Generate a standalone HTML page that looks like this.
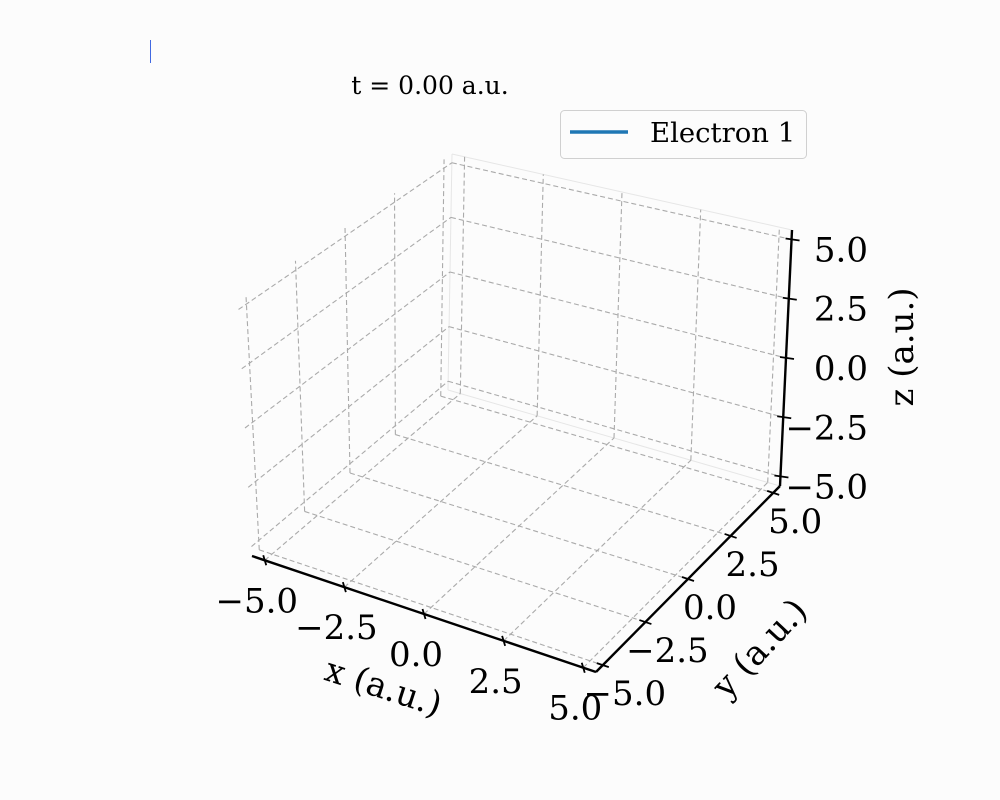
<!DOCTYPE html>
<html><head><meta charset="utf-8"><style>
html,body{margin:0;padding:0;background:#fcfcfc;}
svg{display:block;font-family:"DejaVu Serif","Liberation Serif",serif;}
</style></head><body>
<svg id="chart" width="1000" height="800" viewBox="0 0 1000 800">
<rect width="1000" height="800" fill="#fcfcfc"/>
<line x1="150.5" y1="40" x2="150.5" y2="63" stroke="#4169e1" stroke-width="1"/>
<text x="430" y="94" font-size="25" text-anchor="middle" fill="#000">t = 0.00 a.u.</text>
<g id="grid"></g>
<g id="axes"></g>
<g>
<rect x="560.5" y="110.5" width="246" height="48" rx="4" fill="#fcfcfc" stroke="#d0d0d0"/>
<line x1="570" y1="132" x2="628" y2="132" stroke="#1f77b4" stroke-width="3.5"/>
<text x="650" y="142" font-size="27.5" fill="#000">Electron 1</text>
</g>
<text transform="translate(380,698) rotate(18)" font-size="34" text-anchor="middle">x (a.u.)</text>
<text transform="translate(768,656) rotate(-47)" font-size="34" text-anchor="middle">y (a.u.)</text>
<text transform="translate(913,347) rotate(-90)" font-size="34" text-anchor="middle">z (a.u.)</text>
</svg>
<script>
const xTicks=[-5,-2.5,0,2.5,5];
const yTicks=[-5,-2.5,0,2.5,5];
const zTicks=[-5,-2.5,0,2.5,5];
const tickLabels=["\u22125.0","\u22122.5","0.0","2.5","5.0"];
const series1X=[];const series1Y=[];const series1Z=[];
const R=5.4;
const C={
 "000":[252,556],"100":[596,672],"110":[780,486],"010":[448,390],
 "001":[238,300],"101":[580,416],"111":[792,230],"011":[452,154]};
function proj(x,y,z){
 const u=(x+R)/(2*R),v=(y+R)/(2*R),w=(z+R)/(2*R);
 let px=0,py=0;
 for(const a of [0,1])for(const b of [0,1])for(const c of [0,1]){
  const wt=(a?u:1-u)*(b?v:1-v)*(c?w:1-w);
  const p=C[""+a+b+c];px+=wt*p[0];py+=wt*p[1];}
 return [px,py];}
const NS="http://www.w3.org/2000/svg";
const grid=document.getElementById('grid'),axes=document.getElementById('axes'),svg=document.getElementById('chart');
function ln(g,p,q,stroke,w,dash,name){
 const l=document.createElementNS(NS,'line');
 l.setAttribute('x1',p[0]);l.setAttribute('y1',p[1]);l.setAttribute('x2',q[0]);l.setAttribute('y2',q[1]);
 l.setAttribute('stroke',stroke);l.setAttribute('stroke-width',w);if(dash)l.setAttribute('stroke-dasharray',dash);
 
 
 g.appendChild(l);}
ln(grid,proj(-R,R,-R),proj(-R,R,R),'#e6e6e6',1,null,'pane-edge');
ln(grid,proj(-R,R,R),proj(R,R,R),'#e6e6e6',1,null,'pane-edge');
ln(grid,proj(-R,R,-R),proj(R,R,-R),'#e6e6e6',1,null,'pane-edge');
const gc='#aaaaaa',gd='5,3';
xTicks.forEach(t=>{ln(grid,proj(t,-R,-R),proj(t,R,-R),gc,1.1,gd,'x-grid-floor');ln(grid,proj(t,R,-R),proj(t,R,R),gc,1.1,gd,'x-grid-back');});
yTicks.forEach(t=>{ln(grid,proj(-R,t,-R),proj(R,t,-R),gc,1.1,gd,'y-grid-floor');ln(grid,proj(-R,t,-R),proj(-R,t,R),gc,1.1,gd,'y-grid-left');});
zTicks.forEach(t=>{ln(grid,proj(-R,-R,t),proj(-R,R,t),gc,1.1,gd,'z-grid-left');ln(grid,proj(-R,R,t),proj(R,R,t),gc,1.1,gd,'z-grid-back');});
ln(axes,proj(-R,-R,-R),proj(R,-R,-R),'#000',2.4,null,'x-axis-line');
ln(axes,proj(R,-R,-R),proj(R,R,-R),'#000',2.4,null,'y-axis-line');
ln(axes,proj(R,R,-R),proj(R,R,R),'#000',2.4,null,'z-axis-line');
function txt(x,y,s,anchor,name){
 const t=document.createElementNS(NS,'text');
 t.setAttribute('x',x);t.setAttribute('y',y);t.setAttribute('font-size','34');t.setAttribute('text-anchor',anchor);t.textContent=s;
 
 
 svg.appendChild(t);}
xTicks.forEach((t,i)=>{const p=proj(t,-R,-R);
 ln(axes,[p[0]-1.5,p[1]-5],[p[0]+1.5,p[1]+5],'#000',1.8,null,'x-tick');
 txt(p[0]-8,p[1]+52,tickLabels[i],'middle','x-tick-label');});
yTicks.forEach((t,i)=>{const p=proj(R,t,-R);
 ln(axes,[p[0]-6,p[1]-2],[p[0]+6,p[1]+2],'#000',1.8,null,'y-tick');
 txt(p[0]+22,p[1]+40,tickLabels[i],'middle','y-tick-label');});
zTicks.forEach((t,i)=>{const p=proj(R,R,t);
 ln(axes,[p[0]-6,p[1]-1],[p[0]+8,p[1]+1],'#000',1.8,null,'z-tick');
 txt(868,p[1]+22,tickLabels[i],'end','z-tick-label');});
</script>
</body></html>
